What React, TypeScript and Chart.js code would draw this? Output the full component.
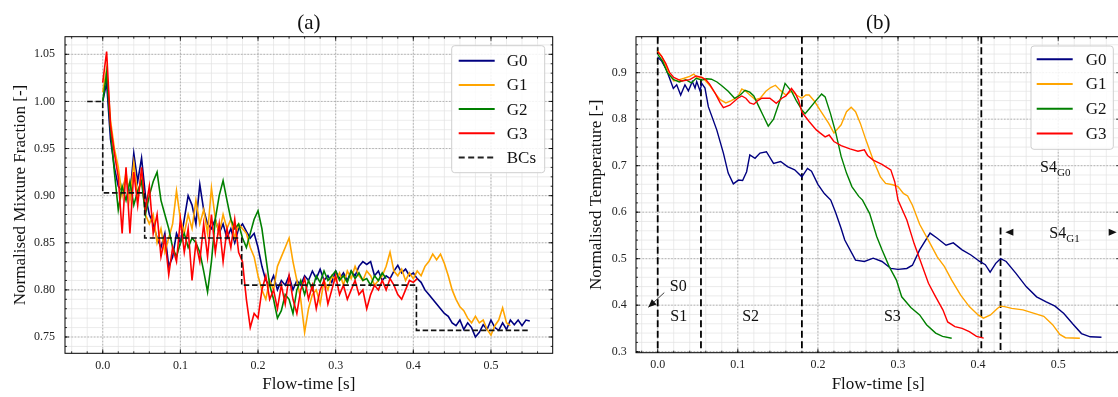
import React, { useEffect, useRef } from "react";
import { Chart, registerables } from "chart.js";

Chart.register(...registerables);

const SERIF = "'Liberation Serif', 'Times New Roman', Times, serif";

const seriesNames = ["G0", "G1", "G2", "G3"];
const seriesColors = ["#000080", "#FFA500", "#008000", "#FF0000"];

// ---------- panel (a): normalised mixture fraction, sampled every 5 ms ----------
const SAMPLE_STEP_A = 0.005;
const mixG0 = [
  1.0, 1.02, 0.96, 0.93, 0.91, 0.905, 0.92, 0.9, 0.945, 0.915,
  0.94, 0.9, 0.88, 0.87, 0.855, 0.845, 0.86, 0.825, 0.835, 0.86,
  0.85, 0.875, 0.9, 0.89, 0.87, 0.912, 0.885, 0.87, 0.865, 0.875,
  0.86, 0.87, 0.855, 0.865, 0.85, 0.865, 0.87, 0.862, 0.855, 0.86,
  0.845, 0.825, 0.81, 0.805, 0.815, 0.8, 0.81, 0.805, 0.815, 0.8,
  0.81, 0.805, 0.815, 0.81, 0.82, 0.812, 0.822, 0.81, 0.815, 0.808,
  0.82, 0.812, 0.818, 0.81, 0.82, 0.815, 0.825, 0.83, 0.827, 0.83,
  0.815, 0.82, 0.81, 0.815, 0.812, 0.82, 0.826, 0.818, 0.822, 0.815,
  0.818, 0.812, 0.808, 0.8, 0.795, 0.79, 0.785, 0.78, 0.775, 0.772,
  0.765, 0.762, 0.768, 0.758, 0.765, 0.76, 0.75, 0.755, 0.763, 0.758,
  0.768, 0.76, 0.757, 0.765, 0.758, 0.768, 0.763, 0.768, 0.762, 0.768,
  0.767,
];
const mixG1 = [
  1.01, 1.035, 0.98, 0.95, 0.93, 0.9, 0.925, 0.895, 0.935, 0.9,
  0.92, 0.88, 0.87, 0.88, 0.85, 0.865, 0.84, 0.855, 0.87, 0.905,
  0.875, 0.86, 0.88, 0.865, 0.895, 0.87, 0.885, 0.86, 0.908, 0.875,
  0.86, 0.88, 0.865, 0.875, 0.855, 0.87, 0.865, 0.86, 0.845, 0.835,
  0.815, 0.8, 0.79, 0.81, 0.8, 0.825, 0.835, 0.845, 0.855, 0.83,
  0.81, 0.79, 0.755, 0.78, 0.795, 0.8, 0.785, 0.81, 0.8, 0.815,
  0.81, 0.818, 0.805, 0.82, 0.812, 0.825, 0.815, 0.81, 0.82, 0.815,
  0.805, 0.81, 0.815, 0.825, 0.84, 0.82, 0.815, 0.822, 0.81, 0.818,
  0.812, 0.82, 0.815, 0.825, 0.83, 0.838, 0.832, 0.838, 0.828, 0.815,
  0.8, 0.79, 0.782, 0.778, 0.77, 0.765, 0.772, 0.765, 0.768, 0.758,
  0.752, 0.762, 0.768, 0.781, 0.765, 0.762,
];
const mixG2 = [
  1.0, 1.03, 0.97, 0.925, 0.885, 0.91, 0.895, 0.915, 0.89, 0.905,
  0.915, 0.88, 0.9, 0.915, 0.925, 0.895, 0.88, 0.865, 0.845, 0.835,
  0.85, 0.86, 0.845, 0.855, 0.85, 0.84, 0.82, 0.798, 0.83, 0.875,
  0.9, 0.916, 0.895, 0.875, 0.865, 0.87, 0.855, 0.845, 0.86, 0.875,
  0.884, 0.865, 0.835, 0.805, 0.79, 0.77, 0.778, 0.795, 0.79, 0.775,
  0.8, 0.81, 0.795, 0.81, 0.8, 0.815, 0.808, 0.82, 0.81, 0.815,
  0.82, 0.81, 0.815, 0.808, 0.82, 0.812, 0.818, 0.81, 0.812, 0.805,
  0.815, 0.81, 0.818, 0.812,
];
const mixG3 = [
  1.02, 1.053, 0.975, 0.945, 0.92, 0.86, 0.93, 0.86, 0.925, 0.89,
  0.93, 0.885, 0.91, 0.86, 0.88, 0.835, 0.855, 0.816, 0.845, 0.83,
  0.875, 0.84, 0.865, 0.81, 0.85, 0.83, 0.87, 0.835, 0.88, 0.84,
  0.87, 0.83, 0.865, 0.845, 0.875, 0.84, 0.83, 0.79, 0.76, 0.775,
  0.77, 0.8, 0.815, 0.79, 0.8, 0.78, 0.805, 0.785, 0.815, 0.79,
  0.775, 0.8, 0.812, 0.79, 0.805, 0.78, 0.8, 0.81, 0.785, 0.8,
  0.815, 0.795, 0.805, 0.79, 0.8, 0.81, 0.795, 0.8, 0.78, 0.795,
  0.805, 0.8, 0.81, 0.8, 0.812, 0.805, 0.795, 0.79, 0.8, 0.81,
  0.808, 0.812,
];
const bcTime = [-0.02, 0.0, 0.054, 0.179, 0.404, 0.55];
const bcValue = [1.0, 0.903, 0.855, 0.805, 0.757, 0.757];
const xTicksA = [0.0, 0.1, 0.2, 0.3, 0.4, 0.5];
const yTicksA = [0.75, 0.8, 0.85, 0.9, 0.95, 1.0, 1.05];

// ---------- panel (b): normalised temperature ----------
const tG0 = [
  0.0, 0.005, 0.011, 0.0195, 0.0237, 0.0287, 0.034, 0.0383, 0.0432, 0.0466,
  0.0487, 0.0528, 0.055, 0.059, 0.0632, 0.0737, 0.082, 0.088, 0.0944, 0.1007,
  0.106, 0.111, 0.115, 0.1215, 0.1277, 0.1357, 0.1446, 0.1535, 0.162, 0.171,
  0.18, 0.187, 0.192, 0.2, 0.208, 0.216, 0.222, 0.229, 0.2335, 0.247,
  0.258, 0.269, 0.28, 0.291, 0.3, 0.311, 0.318, 0.327, 0.34, 0.349,
  0.36, 0.369, 0.38, 0.391, 0.402, 0.409, 0.415, 0.422, 0.428, 0.435,
  0.447, 0.46, 0.473, 0.485, 0.496, 0.507, 0.518, 0.529, 0.54, 0.554,
];
const tempG0 = [
  0.933, 0.925, 0.906, 0.866, 0.874, 0.852, 0.874, 0.861, 0.881, 0.867,
  0.881, 0.861, 0.877, 0.867, 0.827, 0.777, 0.727, 0.684, 0.661, 0.669,
  0.668, 0.687, 0.723, 0.716, 0.727, 0.73, 0.705, 0.709, 0.698, 0.691,
  0.676, 0.694, 0.688, 0.66, 0.64, 0.626, 0.6, 0.565, 0.54, 0.497,
  0.494, 0.501, 0.494, 0.479, 0.477, 0.479, 0.486, 0.519, 0.555, 0.544,
  0.529, 0.534, 0.519, 0.508, 0.494, 0.487, 0.471, 0.49, 0.5, 0.494,
  0.469, 0.44, 0.418, 0.407, 0.398, 0.382, 0.36, 0.339, 0.332, 0.331,
];
const tG1 = [
  0.0, 0.005, 0.01, 0.015, 0.02, 0.027, 0.033, 0.04, 0.045, 0.05,
  0.055, 0.06, 0.066, 0.072, 0.078, 0.085, 0.092, 0.1, 0.105, 0.11,
  0.115, 0.122, 0.128, 0.135, 0.141, 0.147, 0.153, 0.16, 0.167, 0.173,
  0.18, 0.185, 0.189, 0.196, 0.2025, 0.2135, 0.22, 0.229, 0.2357, 0.2415,
  0.247, 0.253, 0.26, 0.269, 0.278, 0.2845, 0.2934, 0.3, 0.3067, 0.312,
  0.318, 0.327, 0.34, 0.349, 0.358, 0.367, 0.378, 0.389, 0.4, 0.4066,
  0.4155, 0.424, 0.428, 0.433, 0.442, 0.456, 0.469, 0.482, 0.493, 0.502,
  0.509, 0.527,
];
const tempG1 = [
  0.947, 0.935, 0.915, 0.895, 0.882, 0.885, 0.888, 0.892, 0.897, 0.888,
  0.89, 0.882, 0.87, 0.855, 0.842, 0.835, 0.84, 0.848, 0.865, 0.86,
  0.852, 0.842, 0.845, 0.86, 0.868, 0.873, 0.862, 0.852, 0.86, 0.852,
  0.845, 0.852, 0.852, 0.838, 0.82, 0.791, 0.77, 0.788, 0.816, 0.8255,
  0.816, 0.791, 0.755, 0.712, 0.676, 0.662, 0.659, 0.655, 0.6405, 0.635,
  0.615, 0.574, 0.533, 0.504, 0.483, 0.454, 0.422, 0.397, 0.379, 0.372,
  0.379, 0.393, 0.398, 0.397, 0.393, 0.39, 0.383, 0.376, 0.358, 0.337,
  0.33, 0.329,
];
const tG2 = [
  0.0, 0.006, 0.012, 0.02, 0.027, 0.035, 0.042, 0.048, 0.055, 0.061,
  0.067, 0.074, 0.08, 0.088, 0.096, 0.103, 0.109, 0.115, 0.12, 0.126,
  0.131, 0.138, 0.1446, 0.1535, 0.159, 0.167, 0.173, 0.18, 0.184, 0.189,
  0.198, 0.2046, 0.209, 0.2157, 0.2224, 0.229, 0.2357, 0.2424, 0.251, 0.2557,
  0.2646, 0.2735, 0.28, 0.289, 0.298, 0.3046, 0.316, 0.327, 0.3356, 0.347,
  0.3556, 0.367,
];
const tempG2 = [
  0.94, 0.925, 0.9, 0.885, 0.88, 0.885, 0.878, 0.888, 0.884, 0.887,
  0.886, 0.88, 0.872, 0.86, 0.845, 0.852, 0.862, 0.858, 0.85, 0.828,
  0.81, 0.785, 0.8, 0.845, 0.877, 0.86, 0.84, 0.82, 0.812, 0.822,
  0.841, 0.854, 0.848, 0.812, 0.77, 0.72, 0.684, 0.655, 0.634, 0.626,
  0.597, 0.547, 0.519, 0.483, 0.454, 0.418, 0.395, 0.379, 0.358, 0.34,
  0.333, 0.329,
];
const tG3 = [
  0.0, 0.005, 0.01, 0.015, 0.02, 0.03, 0.04, 0.048, 0.055, 0.06,
  0.065, 0.072, 0.078, 0.082, 0.09, 0.1, 0.105, 0.11, 0.115, 0.12,
  0.125, 0.13, 0.14, 0.148, 0.155, 0.16, 0.167, 0.172, 0.176, 0.18,
  0.189, 0.198, 0.203, 0.209, 0.214, 0.22, 0.229, 0.24, 0.25, 0.258,
  0.262, 0.269, 0.28, 0.291, 0.296, 0.3, 0.311, 0.32, 0.328, 0.338,
  0.347, 0.356, 0.362, 0.371, 0.38, 0.389, 0.398, 0.407,
];
const tempG3 = [
  0.945, 0.935, 0.92, 0.9, 0.89, 0.882, 0.885, 0.893, 0.89, 0.885,
  0.875, 0.855, 0.835, 0.825, 0.83, 0.845, 0.85, 0.845, 0.835, 0.832,
  0.84, 0.845, 0.845, 0.834, 0.845, 0.85, 0.866, 0.855, 0.84, 0.815,
  0.795, 0.777, 0.77, 0.762, 0.766, 0.752, 0.743, 0.736, 0.731, 0.734,
  0.722, 0.712, 0.703, 0.691, 0.665, 0.626, 0.583, 0.533, 0.495, 0.447,
  0.418, 0.39, 0.364, 0.354, 0.35, 0.343, 0.333, 0.329,
];
const stageBoundaries = [0.0, 0.054, 0.18, 0.404];
const s4G1Boundary = 0.428;
const s4G1BoundaryTop = 0.567;
const stageLabels = ["S1", "S2", "S3"];
const stageLabelX = [0.0262, 0.116, 0.293];
const stageLabelY = 0.374;
const xTicksB = [0.0, 0.1, 0.2, 0.3, 0.4, 0.5];
const yTicksB = [0.3, 0.4, 0.5, 0.6, 0.7, 0.8, 0.9];

// ---------- drawing helpers ----------
function stepValues(min: number, max: number, step: number) {
  const out: number[] = [];
  for (let k = Math.ceil(min / step - 1e-9); k * step <= max + 1e-9; k++) out.push(k * step);
  return out;
}

const sciPlugin = {
  id: "sci",
  beforeDatasetsDraw(chart: any, _args: any, o: any) {
    const { ctx, chartArea: a } = chart;
    const x = chart.scales.x;
    const y = chart.scales.y;
    ctx.save();
    ctx.beginPath();
    ctx.rect(a.left, a.top, a.right - a.left, a.bottom - a.top);
    ctx.clip();
    const vline = (px: number, y0 = a.top, y1 = a.bottom) => {
      ctx.beginPath();
      ctx.moveTo(px, y0);
      ctx.lineTo(px, y1);
      ctx.stroke();
    };
    const hline = (py: number) => {
      ctx.beginPath();
      ctx.moveTo(a.left, py);
      ctx.lineTo(a.right, py);
      ctx.stroke();
    };
    ctx.lineWidth = 0.7;
    ctx.strokeStyle = "#e3e3e3";
    stepValues(x.min, x.max, o.xMinor).forEach((v) => vline(x.getPixelForValue(v)));
    stepValues(y.min, y.max, o.yMinor).forEach((v) => hline(y.getPixelForValue(v)));
    ctx.strokeStyle = "#9a9a9a";
    ctx.lineWidth = 0.7;
    ctx.setLineDash([1.6, 1.6]);
    o.xMajor.forEach((v: number) => vline(x.getPixelForValue(v)));
    o.yMajor.forEach((v: number) => hline(y.getPixelForValue(v)));
    if (o.boundaries) {
      ctx.strokeStyle = "#000";
      ctx.lineWidth = 1.8;
      ctx.setLineDash([7, 3.5]);
      o.boundaries.forEach((v: number) => vline(x.getPixelForValue(v)));
      vline(x.getPixelForValue(o.partial.x), y.getPixelForValue(o.partial.top), a.bottom);
    }
    ctx.restore();
  },
  afterDatasetsDraw(chart: any, _args: any, o: any) {
    const { ctx, chartArea: a } = chart;
    const x = chart.scales.x;
    const y = chart.scales.y;
    ctx.save();
    // frame
    ctx.strokeStyle = "#000";
    ctx.lineWidth = 1;
    ctx.setLineDash([]);
    ctx.strokeRect(a.left, a.top, a.right - a.left, a.bottom - a.top);
    // inward ticks on all sides
    ctx.lineWidth = 0.8;
    const xt = (v: number, len: number) => {
      const px = x.getPixelForValue(v);
      if (px < a.left || px > a.right) return;
      ctx.beginPath();
      ctx.moveTo(px, a.bottom);
      ctx.lineTo(px, a.bottom - len);
      ctx.moveTo(px, a.top);
      ctx.lineTo(px, a.top + len);
      ctx.stroke();
    };
    const yt = (v: number, len: number) => {
      const py = y.getPixelForValue(v);
      if (py < a.top || py > a.bottom) return;
      ctx.beginPath();
      ctx.moveTo(a.left, py);
      ctx.lineTo(a.left + len, py);
      ctx.moveTo(a.right, py);
      ctx.lineTo(a.right - len, py);
      ctx.stroke();
    };
    stepValues(x.min, x.max, o.xMinor).forEach((v) => xt(v, 2));
    stepValues(y.min, y.max, o.yMinor).forEach((v) => yt(v, 2));
    o.xMajor.forEach((v: number) => xt(v, 4));
    o.yMajor.forEach((v: number) => yt(v, 4));

    // legend
    const L = o.legend;
    const lx = a.right - L.right - L.width;
    const ly = a.top + L.top;
    ctx.beginPath();
    ctx.roundRect(lx, ly, L.width, L.height, 3);
    ctx.fillStyle = "rgba(255,255,255,0.85)";
    ctx.fill();
    ctx.strokeStyle = "#cfcfcf";
    ctx.lineWidth = 1;
    ctx.stroke();
    ctx.font = `17px ${SERIF}`;
    ctx.textBaseline = "middle";
    ctx.textAlign = "left";
    L.items.forEach((it: any, i: number) => {
      const ry = ly + L.first + i * L.gap;
      ctx.beginPath();
      ctx.strokeStyle = it.color;
      ctx.lineWidth = 2;
      ctx.setLineDash(it.dash || []);
      ctx.moveTo(lx + L.lineStart, ry);
      ctx.lineTo(lx + L.lineStart + 36, ry);
      ctx.stroke();
      ctx.setLineDash([]);
      ctx.fillStyle = "#111";
      ctx.fillText(it.label, lx + L.textStart, ry + 1);
    });

    // annotations (panel b)
    if (o.annot) {
      const n = o.annot;
      ctx.fillStyle = "#111";
      ctx.font = `16px ${SERIF}`;
      ctx.textAlign = "center";
      n.labels.forEach((t: string, i: number) =>
        ctx.fillText(t, x.getPixelForValue(n.labelX[i]), y.getPixelForValue(n.labelY))
      );
      ctx.fillText("S0", x.getPixelForValue(n.s0.x), y.getPixelForValue(n.s0.y));
      // S0 arrow
      const ax0 = x.getPixelForValue(n.s0.from.x);
      const ay0 = y.getPixelForValue(n.s0.from.y);
      const ax1 = x.getPixelForValue(n.s0.to.x);
      const ay1 = y.getPixelForValue(n.s0.to.y);
      ctx.strokeStyle = "#111";
      ctx.lineWidth = 0.8;
      ctx.beginPath();
      ctx.moveTo(ax0, ay0);
      ctx.lineTo(ax1, ay1);
      ctx.stroke();
      const ang = Math.atan2(ay1 - ay0, ax1 - ax0);
      const head = (tx: number, ty: number, an: number, len: number, wid: number) => {
        ctx.beginPath();
        ctx.moveTo(tx, ty);
        ctx.lineTo(tx - len * Math.cos(an) + wid * Math.sin(an), ty - len * Math.sin(an) - wid * Math.cos(an));
        ctx.lineTo(tx - len * Math.cos(an) - wid * Math.sin(an), ty - len * Math.sin(an) + wid * Math.cos(an));
        ctx.closePath();
        ctx.fill();
      };
      head(ax1, ay1, ang, 8, 3.5);
      // S4 labels with subscripts
      ctx.textAlign = "left";
      n.s4.forEach((s: any) => {
        const px = x.getPixelForValue(s.x);
        const py = y.getPixelForValue(s.y);
        ctx.font = `16px ${SERIF}`;
        ctx.fillText("S4", px, py);
        const w = ctx.measureText("S4").width;
        ctx.font = `11px ${SERIF}`;
        ctx.fillText(s.sub, px + w, py + 5);
      });
      // S4_G1 span arrowheads
      const hy = y.getPixelForValue(n.span.y);
      head(x.getPixelForValue(n.span.x0), hy, Math.PI, 8, 3.5);
      head(x.getPixelForValue(n.span.x1), hy, 0, 8, 3.5);
    }

    // title
    ctx.fillStyle = "#111";
    ctx.font = `21px ${SERIF}`;
    ctx.textAlign = "center";
    ctx.textBaseline = "middle";
    ctx.fillText(o.title, (a.left + a.right) / 2, 23);
    ctx.restore();
  },
};

function axisCommon(opts: {
  min: number; max: number; ticks: number[]; digits: number; pad: number;
  title: string; titlePad: any; fit: (s: any) => void;
}) {
  return {
    type: "linear",
    min: opts.min,
    max: opts.max,
    grid: { display: false, drawTicks: false },
    border: { display: false },
    afterBuildTicks: (s: any) => {
      s.ticks = opts.ticks.map((value) => ({ value }));
    },
    afterFit: opts.fit,
    ticks: {
      autoSkip: false,
      maxRotation: 0,
      padding: opts.pad,
      color: "#222",
      font: { family: SERIF, size: 12 },
      callback: (v: any) => Number(v).toFixed(opts.digits),
    },
    title: {
      display: true,
      text: opts.title,
      color: "#111",
      font: { family: SERIF, size: 17 },
      padding: opts.titlePad,
    },
  };
}

function lineSet(label: string, pts: { x: number; y: number }[], color: string, width: number, order: number) {
  return { label, data: pts, borderColor: color, backgroundColor: color, borderWidth: width, pointRadius: 0, tension: 0, order, fill: false };
}

function configA(): any {
  const series = [mixG0, mixG1, mixG2, mixG3];
  return {
    type: "line",
    data: {
      datasets: [
        ...series.map((vals, i) =>
          lineSet(seriesNames[i], vals.map((v, k) => ({ x: k * SAMPLE_STEP_A, y: v })), seriesColors[i], 1.6, 5 - i)
        ),
        {
          ...lineSet("BCs", bcTime.map((t, k) => ({ x: t, y: bcValue[k] })), "#111", 1.6, 0),
          stepped: "before",
          borderDash: [5.5, 2.8],
        },
      ],
    },
    plugins: [sciPlugin],
    options: {
      animation: false,
      responsive: false,
      events: [],
      layout: { padding: { left: 0, top: 36.7, right: 7.3, bottom: 0 } },
      scales: {
        x: axisCommon({
          min: -0.0486, max: 0.5795, ticks: xTicksA, digits: 1, pad: 5,
          title: "Flow-time [s]", titlePad: { top: 0, bottom: 2 },
          fit: (s: any) => { s.height = 43.7; },
        }),
        y: axisCommon({
          min: 0.7327, max: 1.0687, ticks: yTicksA, digits: 2, pad: 10,
          title: "Normalised Mixture Fraction [-]", titlePad: { top: 10, bottom: 0 },
          fit: (s: any) => { s.width = 65; },
        }),
      },
      plugins: {
        legend: { display: false },
        tooltip: { enabled: false },
        sci: {
          title: "(a)",
          xMinor: 0.02, yMinor: 0.01, xMajor: xTicksA, yMajor: yTicksA,
          legend: {
            right: 8, top: 9, width: 93, height: 127, first: 15, gap: 24.2, lineStart: 7, textStart: 55,
            items: [
              ...seriesNames.map((s, i) => ({ label: s, color: seriesColors[i] })),
              { label: "BCs", color: "#222", dash: [6, 3.5] },
            ],
          },
        },
      },
    },
  };
}

function configB(): any {
  const times = [tG0, tG1, tG2, tG3];
  const temps = [tempG0, tempG1, tempG2, tempG3];
  return {
    type: "line",
    data: {
      datasets: temps.map((vals, i) =>
        lineSet(seriesNames[i], vals.map((v, k) => ({ x: times[i][k], y: v })), seriesColors[i], 1.4, 5 - i)
      ),
    },
    plugins: [sciPlugin],
    options: {
      animation: false,
      responsive: false,
      events: [],
      layout: { padding: { left: 0, top: 36.7, right: 19.7, bottom: 0 } },
      scales: {
        x: axisCommon({
          min: -0.0271, max: 0.5775, ticks: xTicksB, digits: 1, pad: 5,
          title: "Flow-time [s]", titlePad: { top: 0, bottom: 2 },
          fit: (s: any) => { s.height = 44.3; },
        }),
        y: axisCommon({
          min: 0.2978, max: 0.9774, ticks: yTicksB, digits: 1, pad: 9.3,
          title: "Normalised Temperature [-]", titlePad: { top: 26.8, bottom: 0 },
          fit: (s: any) => { s.width = 76; },
        }),
      },
      plugins: {
        legend: { display: false },
        tooltip: { enabled: false },
        sci: {
          title: "(b)",
          xMinor: 0.02, yMinor: 0.02, xMajor: xTicksB, yMajor: yTicksB,
          boundaries: stageBoundaries,
          partial: { x: s4G1Boundary, top: s4G1BoundaryTop },
          legend: {
            right: 7, top: 9.3, width: 82.3, height: 103.3, first: 13.3, gap: 24.7, lineStart: 5.7, textStart: 54.7,
            items: seriesNames.map((s, i) => ({ label: s, color: seriesColors[i] })),
          },
          annot: {
            labels: stageLabels,
            labelX: stageLabelX,
            labelY: stageLabelY,
            s0: { x: 0.0257, y: 0.4406, from: { x: 0.0082, y: 0.427 }, to: { x: -0.0117, y: 0.3955 } },
            s4: [
              { x: 0.4773, y: 0.6955, sub: "G0" },
              { x: 0.4889, y: 0.5538, sub: "G1" },
            ],
            span: { x0: 0.434, x1: 0.573, y: 0.5566 },
          },
        },
      },
    },
  };
}

function ChartCanvas({ make, left, width }: { make: () => any; left: number; width: number }) {
  const ref = useRef<HTMLCanvasElement>(null);
  useEffect(() => {
    const chart = new Chart(ref.current as HTMLCanvasElement, make());
    return () => chart.destroy();
  }, [make]);
  return (
    <canvas
      ref={ref}
      width={width}
      height={397}
      style={{ position: "absolute", left, top: 0, width, height: 397 }}
    />
  );
}

export default function App() {
  return (
    <div
      style={{
        position: "absolute",
        left: 0,
        top: 0,
        width: 1118,
        height: 397,
        overflow: "hidden",
        background: "#fff",
      }}
    >
      <ChartCanvas make={configA} left={0} width={560} />
      <ChartCanvas make={configB} left={560} width={580} />
    </div>
  );
}
